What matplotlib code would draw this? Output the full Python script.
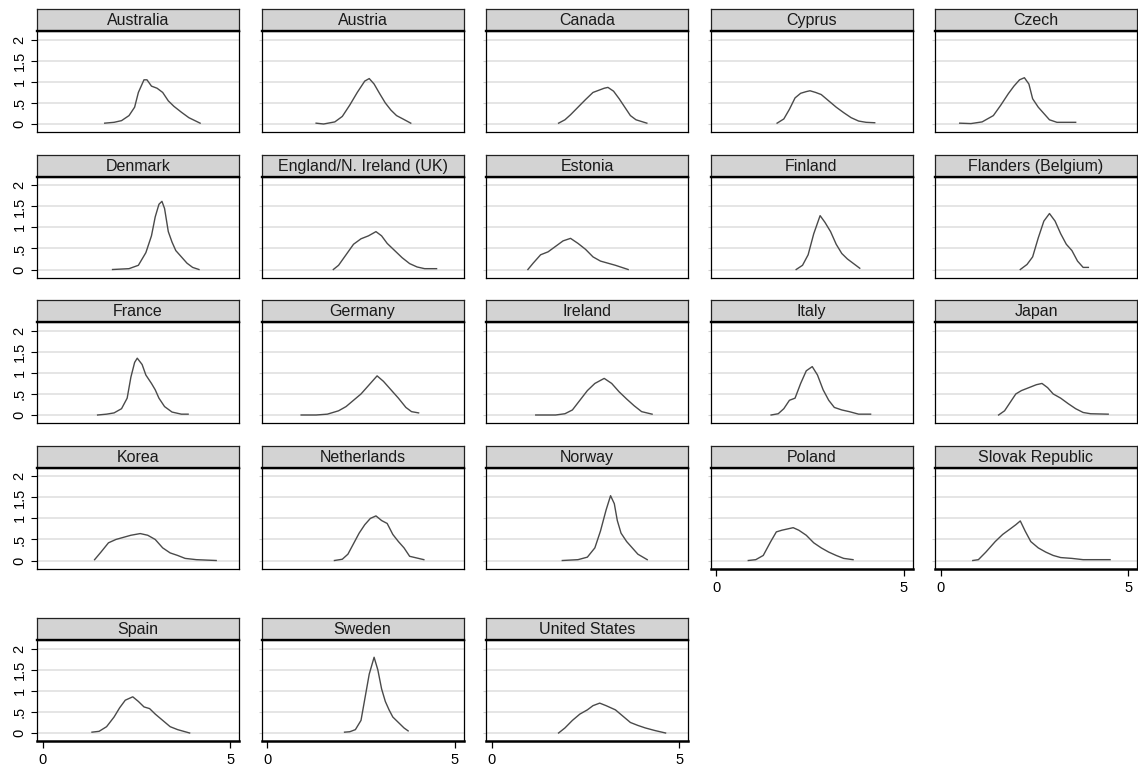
import matplotlib
matplotlib.use("Agg")
import matplotlib.pyplot as plt

plt.rcParams['font.family'] = ['Liberation Sans', 'DejaVu Sans']

# Kernel density estimates by country (score on x, density on y)
australia_x = [1.65, 1.9, 2.1, 2.3, 2.45, 2.55, 2.7, 2.78, 2.9, 3.05, 3.2, 3.35, 3.5, 3.7, 3.9, 4.2]
australia_d = [0.02, 0.04, 0.08, 0.2, 0.4, 0.75, 1.05, 1.05, 0.9, 0.85, 0.75, 0.55, 0.42, 0.28, 0.15, 0.02]

austria_x = [1.3, 1.5, 1.8, 2.0, 2.2, 2.4, 2.6, 2.72, 2.85, 3.0, 3.15, 3.3, 3.45, 3.6, 3.83]
austria_d = [0.02, 0.0, 0.05, 0.18, 0.45, 0.75, 1.02, 1.08, 0.95, 0.72, 0.5, 0.33, 0.2, 0.13, 0.02]

canada_x = [1.78, 1.95, 2.1, 2.3, 2.5, 2.7, 2.85, 3.0, 3.1, 3.25, 3.4, 3.55, 3.7, 3.85, 4.14]
canada_d = [0.02, 0.1, 0.22, 0.4, 0.58, 0.75, 0.8, 0.85, 0.87, 0.78, 0.6, 0.4, 0.2, 0.1, 0.02]

cyprus_x = [1.62, 1.8, 1.95, 2.1, 2.25, 2.4, 2.5, 2.65, 2.8, 3.0, 3.2, 3.4, 3.6, 3.8, 4.0, 4.23]
cyprus_d = [0.02, 0.12, 0.35, 0.62, 0.73, 0.77, 0.79, 0.75, 0.7, 0.55, 0.4, 0.27, 0.15, 0.07, 0.04, 0.03]

czech_x = [0.5, 0.8, 1.1, 1.4, 1.6, 1.8, 1.95, 2.1, 2.23, 2.35, 2.45, 2.6, 2.75, 2.9, 3.1, 3.6]
czech_d = [0.02, 0.01, 0.05, 0.2, 0.45, 0.72, 0.9, 1.05, 1.1, 0.95, 0.6, 0.4, 0.25, 0.1, 0.04, 0.04]

denmark_x = [1.86, 2.3, 2.55, 2.75, 2.9, 3.0, 3.1, 3.18, 3.25, 3.35, 3.45, 3.55, 3.7, 3.85, 4.0, 4.17]
denmark_d = [0.0, 0.02, 0.1, 0.4, 0.8, 1.25, 1.55, 1.62, 1.45, 0.9, 0.65, 0.45, 0.3, 0.15, 0.05, 0.0]

england_x = [1.76, 1.9, 2.1, 2.3, 2.5, 2.7, 2.9, 3.05, 3.2, 3.4, 3.6, 3.8, 4.0, 4.2, 4.52]
england_d = [0.0, 0.1, 0.35, 0.6, 0.73, 0.8, 0.9, 0.8, 0.62, 0.45, 0.28, 0.14, 0.06, 0.02, 0.02]

estonia_x = [0.96, 1.1, 1.3, 1.5, 1.7, 1.9, 2.1, 2.3, 2.5, 2.7, 2.9, 3.1, 3.3, 3.64]
estonia_d = [0.0, 0.15, 0.35, 0.42, 0.55, 0.68, 0.74, 0.62, 0.48, 0.3, 0.2, 0.15, 0.1, 0.0]

finland_x = [2.13, 2.3, 2.45, 2.6, 2.77, 2.9, 3.05, 3.2, 3.35, 3.5, 3.65, 3.83]
finland_d = [0.0, 0.1, 0.35, 0.85, 1.28, 1.12, 0.9, 0.6, 0.38, 0.25, 0.15, 0.03]

flanders_x = [2.12, 2.3, 2.45, 2.6, 2.75, 2.9, 3.05, 3.2, 3.35, 3.5, 3.65, 3.8, 3.94]
flanders_d = [0.0, 0.12, 0.3, 0.75, 1.15, 1.33, 1.15, 0.85, 0.6, 0.45, 0.2, 0.05, 0.05]

france_x = [1.46, 1.7, 1.9, 2.1, 2.25, 2.35, 2.45, 2.52, 2.65, 2.75, 2.9, 3.0, 3.1, 3.25, 3.45, 3.7, 3.88]
france_d = [0.0, 0.02, 0.05, 0.15, 0.4, 0.9, 1.25, 1.35, 1.2, 0.95, 0.75, 0.6, 0.4, 0.2, 0.07, 0.02, 0.02]

germany_x = [0.9, 1.3, 1.6, 1.9, 2.1, 2.3, 2.5, 2.7, 2.93, 3.1, 3.3, 3.5, 3.7, 3.85, 4.04]
germany_d = [0.0, 0.0, 0.02, 0.1, 0.2, 0.35, 0.5, 0.7, 0.93, 0.8, 0.6, 0.4, 0.18, 0.08, 0.05]

ireland_x = [1.17, 1.7, 1.95, 2.15, 2.35, 2.55, 2.75, 3.0, 3.2, 3.4, 3.6, 3.8, 4.0, 4.28]
ireland_d = [0.0, 0.0, 0.03, 0.12, 0.35, 0.58, 0.75, 0.87, 0.75, 0.55, 0.38, 0.22, 0.08, 0.02]

italy_x = [1.46, 1.65, 1.8, 1.95, 2.1, 2.25, 2.4, 2.56, 2.7, 2.85, 3.0, 3.15, 3.35, 3.55, 3.8, 4.12]
italy_d = [0.0, 0.03, 0.15, 0.35, 0.4, 0.75, 1.05, 1.15, 0.95, 0.6, 0.35, 0.18, 0.12, 0.08, 0.02, 0.02]

japan_x = [1.54, 1.7, 1.85, 2.0, 2.15, 2.35, 2.55, 2.7, 2.85, 3.0, 3.2, 3.4, 3.6, 3.8, 4.0, 4.47]
japan_d = [0.0, 0.1, 0.3, 0.5, 0.58, 0.65, 0.72, 0.75, 0.65, 0.5, 0.4, 0.27, 0.15, 0.06, 0.03, 0.02]

korea_x = [1.38, 1.55, 1.75, 1.95, 2.15, 2.35, 2.6, 2.8, 3.0, 3.2, 3.4, 3.6, 3.8, 4.1, 4.63]
korea_d = [0.02, 0.2, 0.42, 0.5, 0.55, 0.6, 0.64, 0.6, 0.5, 0.3, 0.18, 0.12, 0.05, 0.02, 0.0]

netherlands_x = [1.79, 2.0, 2.15, 2.3, 2.45, 2.6, 2.75, 2.9, 3.05, 3.2, 3.35, 3.5, 3.65, 3.8, 4.18]
netherlands_d = [0.0, 0.03, 0.15, 0.4, 0.65, 0.85, 1.0, 1.06, 0.95, 0.88, 0.62, 0.45, 0.3, 0.1, 0.02]

norway_x = [1.88, 2.3, 2.55, 2.75, 2.9, 3.05, 3.17, 3.27, 3.35, 3.45, 3.6, 3.75, 3.9, 4.15]
norway_d = [0.0, 0.02, 0.08, 0.3, 0.7, 1.2, 1.54, 1.35, 0.95, 0.65, 0.45, 0.3, 0.15, 0.02]

poland_x = [0.85, 1.05, 1.25, 1.45, 1.6, 1.75, 1.9, 2.05, 2.2, 2.4, 2.6, 2.8, 3.0, 3.2, 3.4, 3.65]
poland_d = [0.0, 0.02, 0.12, 0.45, 0.68, 0.72, 0.75, 0.78, 0.72, 0.6, 0.42, 0.3, 0.2, 0.12, 0.05, 0.02]

slovak_x = [0.85, 1.0, 1.2, 1.45, 1.65, 1.85, 2.0, 2.12, 2.25, 2.4, 2.6, 2.8, 3.0, 3.2, 3.5, 3.8, 4.52]
slovak_d = [0.0, 0.02, 0.2, 0.45, 0.62, 0.75, 0.85, 0.94, 0.7, 0.45, 0.3, 0.2, 0.12, 0.07, 0.05, 0.02, 0.02]

spain_x = [1.31, 1.5, 1.7, 1.9, 2.05, 2.2, 2.4, 2.55, 2.7, 2.85, 3.0, 3.2, 3.4, 3.6, 3.92]
spain_d = [0.02, 0.04, 0.15, 0.38, 0.6, 0.78, 0.86, 0.75, 0.62, 0.58, 0.45, 0.3, 0.15, 0.08, 0.0]

sweden_x = [2.06, 2.2, 2.35, 2.5, 2.6, 2.72, 2.85, 2.95, 3.05, 3.15, 3.25, 3.35, 3.5, 3.65, 3.76]
sweden_d = [0.02, 0.03, 0.08, 0.3, 0.8, 1.4, 1.8, 1.5, 1.05, 0.75, 0.55, 0.38, 0.25, 0.12, 0.05]

usa_x = [1.78, 1.95, 2.15, 2.35, 2.55, 2.7, 2.88, 3.05, 3.3, 3.5, 3.7, 3.9, 4.1, 4.35, 4.64]
usa_d = [0.0, 0.12, 0.3, 0.45, 0.55, 0.65, 0.71, 0.65, 0.55, 0.4, 0.25, 0.18, 0.12, 0.06, 0.0]

countries = ["Australia", "Austria", "Canada", "Cyprus", "Czech",
             "Denmark", "England/N. Ireland (UK)", "Estonia", "Finland", "Flanders (Belgium)",
             "France", "Germany", "Ireland", "Italy", "Japan",
             "Korea", "Netherlands", "Norway", "Poland", "Slovak Republic",
             "Spain", "Sweden", "United States"]
curves = [(australia_x, australia_d), (austria_x, austria_d), (canada_x, canada_d),
          (cyprus_x, cyprus_d), (czech_x, czech_d),
          (denmark_x, denmark_d), (england_x, england_d), (estonia_x, estonia_d),
          (finland_x, finland_d), (flanders_x, flanders_d),
          (france_x, france_d), (germany_x, germany_d), (ireland_x, ireland_d),
          (italy_x, italy_d), (japan_x, japan_d),
          (korea_x, korea_d), (netherlands_x, netherlands_d), (norway_x, norway_d),
          (poland_x, poland_d), (slovak_x, slovak_d),
          (spain_x, spain_d), (sweden_x, sweden_d), (usa_x, usa_d)]

y_ticks = [0, 0.5, 1, 1.5, 2]
y_labels = ["0", ".5", "1", "1.5", "2"]
x_ticks = [0, 5]
x_labels = ["0", "5"]

W, H = 1138, 769
fig = plt.figure(figsize=(W / 100, H / 100), dpi=100)
fig.patch.set_facecolor("white")

col_left = [37, 261.5, 486, 710.5, 935]
row_top = [31, 176.5, 322, 467.5, 640]
pw, ph, sh = 202, 101, 22

ncols = 5
n = len(countries)
for i, (name, (xs, ds)) in enumerate(zip(countries, curves)):
    r, c = divmod(i, ncols)
    left, top = col_left[c], row_top[r]
    ax = fig.add_axes([left / W, 1 - (top + ph) / H, pw / W, ph / H])
    ax.set_xlim(-0.16, 5.24)
    ax.set_ylim(-0.19, 2.21)
    for yv in y_ticks:
        ax.axhline(yv, color="#e3e3e3", lw=1.3, zorder=0)
    ax.plot(xs, ds, color="#4a4a4a", lw=1.0, zorder=2)
    for s in ax.spines.values():
        s.set_color("black")
        s.set_linewidth(0.9)

    ax.set_yticks(y_ticks)
    if c == 0:
        ax.set_yticklabels(y_labels, rotation=90, va="center", fontsize=10.5)
        ax.tick_params(axis="y", length=4.5, width=0.8, pad=3, colors="black")
    else:
        ax.set_yticklabels([])
        ax.tick_params(axis="y", length=2, width=0.8, colors="#cfcfcf")

    # panels without a panel below carry the x axis
    has_xaxis = (i + ncols) >= n
    ax.set_xticks(x_ticks)
    if has_xaxis:
        ax.set_xticklabels(x_labels, fontsize=10.5)
        ax.tick_params(axis="x", length=5, width=0.9, pad=4, colors="black")
        ax.spines["bottom"].set_linewidth(1.8)
    else:
        ax.tick_params(axis="x", length=0, labelbottom=False)

    # title strip
    sax = fig.add_axes([left / W, 1 - top / H, pw / W, sh / H])
    sax.set_facecolor("#d3d3d3")
    sax.set_xticks([])
    sax.set_yticks([])
    for s in sax.spines.values():
        s.set_color("#222222")
        s.set_linewidth(0.9)
    sax.spines["bottom"].set_color("black")
    sax.spines["bottom"].set_linewidth(1.7)
    sax.text(0.5, 0.27, name, ha="center", va="baseline", fontsize=11.5,
             color="#1a1a1a", transform=sax.transAxes)

fig.savefig("out.png", dpi=100, facecolor="white")
